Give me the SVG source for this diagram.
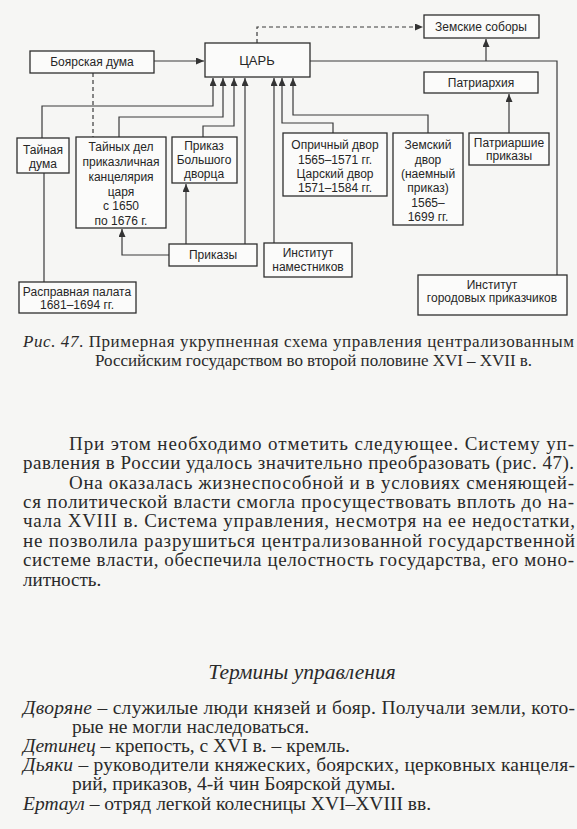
<svg xmlns="http://www.w3.org/2000/svg" width="577" height="829" viewBox="0 0 577 829">
<defs>
<style>
.box{fill:#fbfbfa;stroke:#2e2e2e;stroke-width:1.3}
.t{font-family:"Liberation Sans",Arial,sans-serif;font-size:12px;fill:#262626;text-anchor:middle}
.c{fill:none;stroke:#3a3a3a;stroke-width:1.2}
.d{stroke-dasharray:4 3}
.s{font-family:"Liberation Serif","Times New Roman",serif;font-size:19px;fill:#2a2a2a}
.cap{font-size:17px}
.tm{font-size:19.5px}
.ti{font-size:21.5px}
.i{font-style:italic}
</style>
<marker id="ah" markerWidth="8" markerHeight="7" refX="8" refY="3.5" orient="auto" markerUnits="userSpaceOnUse">
<path d="M0,0 L8,3.5 L0,7 z" fill="#333"/>
</marker>
</defs>
<rect width="577" height="829" fill="#f6f6f4"/>

<g id="connectors">
<path class="c" d="M154,61 H204" marker-end="url(#ah)"/>
<path class="c d" d="M257,43 V27 H423" marker-end="url(#ah)"/>
<path class="c d" d="M93,73 V137"/>
<path class="c" d="M310,61 H557 V275"/>
<path class="c" d="M486,61 V39" marker-end="url(#ah)"/>
<path class="c" d="M509,133 V94" marker-end="url(#ah)"/>
<path class="c" d="M42,138 V106 H213 V78" marker-end="url(#ah)"/>
<path class="c" d="M119,137 V117 H223 V78" marker-end="url(#ah)"/>
<path class="c" d="M203,137 V126 H234 V78" marker-end="url(#ah)"/>
<path class="c" d="M245,244 V78" marker-end="url(#ah)"/>
<path class="c" d="M274,243 V78" marker-end="url(#ah)"/>
<path class="c" d="M333,133 V123 H282 V78" marker-end="url(#ah)"/>
<path class="c" d="M428,133 V115 H293 V78" marker-end="url(#ah)"/>
<path class="c" d="M186,244 V184" marker-end="url(#ah)"/>
<path class="c" d="M169,255 H122 V229" marker-end="url(#ah)"/>
<path class="c" d="M44,173 V282"/>
</g>

<g id="boyar-duma"><rect class="box" x="30" y="51" width="124" height="22"/><text class="t" x="92" y="66">Боярская дума</text></g>
<g id="tsar"><rect class="box" x="205" y="43" width="105" height="34"/><text class="t" x="257" y="65" style="font-size:13px">ЦАРЬ</text></g>
<g id="zemskie-sobory"><rect class="box" x="424" y="15" width="115" height="23"/><text class="t" x="481" y="31">Земские соборы</text></g>
<g id="patriarkhiya"><rect class="box" x="424" y="72" width="114" height="21"/><text class="t" x="481" y="87">Патриархия</text></g>
<g id="patriarshie-prikazy"><rect class="box" x="469" y="133" width="80" height="32"/><text class="t" x="509" y="147">Патриаршие</text><text class="t" x="509" y="160">приказы</text></g>
<g id="zemsky-dvor"><rect class="box" x="393" y="133" width="70" height="92"/>
<text class="t" x="428" y="149">Земский</text><text class="t" x="428" y="164">двор</text><text class="t" x="428" y="178">(наемный</text><text class="t" x="428" y="192">приказ)</text><text class="t" x="428" y="207">1565–</text><text class="t" x="428" y="221">1699 гг.</text></g>
<g id="oprichny-dvor"><rect class="box" x="283" y="133" width="104" height="63"/>
<text class="t" x="335" y="149">Опричный двор</text><text class="t" x="335" y="164">1565–1571 гг.</text><text class="t" x="335" y="178">Царский двор</text><text class="t" x="335" y="192">1571–1584 гг.</text></g>
<g id="prikaz-bolshogo-dvortsa"><rect class="box" x="172" y="137" width="65" height="46"/>
<text class="t" x="204" y="150">Приказ</text><text class="t" x="204" y="164">Большого</text><text class="t" x="204" y="178">дворца</text></g>
<g id="taynykh-del"><rect class="box" x="76" y="137" width="90" height="91"/>
<text class="t" x="121" y="151">Тайных дел</text><text class="t" x="121" y="166">приказличная</text><text class="t" x="121" y="181">канцелярия</text><text class="t" x="121" y="196">царя</text><text class="t" x="121" y="210">с 1650</text><text class="t" x="121" y="225">по 1676 г.</text></g>
<g id="taynaya-duma"><rect class="box" x="17" y="138" width="52" height="35"/>
<text class="t" x="43" y="154">Тайная</text><text class="t" x="43" y="168">дума</text></g>
<g id="prikazy"><rect class="box" x="169" y="244" width="88" height="22"/><text class="t" x="213" y="259">Приказы</text></g>
<g id="institut-namestnikov"><rect class="box" x="264" y="243" width="88" height="34"/>
<text class="t" x="308" y="257">Институт</text><text class="t" x="308" y="271">наместников</text></g>
<g id="raspravnaya-palata"><rect class="box" x="19" y="282" width="117" height="31"/>
<text class="t" x="77" y="296">Расправная палата</text><text class="t" x="77" y="309">1681–1694 гг.</text></g>
<g id="institut-gorodovykh"><rect class="box" x="418" y="275" width="149" height="40"/>
<text class="t" x="492" y="289">Институт</text><text class="t" x="492" y="302">городовых приказчиков</text></g>

<g id="caption">
<text class="s cap" x="23" y="347" textLength="551" lengthAdjust="spacing"><tspan class="i">Рис. 47</tspan>. Примерная укрупненная схема управления централизованным</text>
<text class="s cap" x="95" y="366" textLength="437" lengthAdjust="spacing">Российским государством во второй половине XVI – XVII в.</text>
</g>

<g id="body">
<text class="s" x="69" y="450" textLength="505" lengthAdjust="spacing">При этом необходимо отметить следующее. Систему уп-</text>
<text class="s" x="23" y="469" textLength="551" lengthAdjust="spacing">равления в России удалось значительно преобразовать (рис. 47).</text>
<text class="s" x="69" y="489" textLength="505" lengthAdjust="spacing">Она оказалась жизнеспособной и в условиях сменяющей-</text>
<text class="s" x="23" y="508" textLength="551" lengthAdjust="spacing">ся политической власти смогла просуществовать вплоть до на-</text>
<text class="s" x="23" y="527" textLength="552" lengthAdjust="spacing">чала XVIII в. Система управления, несмотря на ее недостатки,</text>
<text class="s" x="23" y="547" textLength="552" lengthAdjust="spacing">не позволила разрушиться централизованной государственной</text>
<text class="s" x="23" y="566" textLength="551" lengthAdjust="spacing">системе власти, обеспечила целостность государства, его моно-</text>
<text class="s" x="23" y="586">литность.</text>
</g>

<g id="terms">
<text class="s ti i" x="302" y="679" text-anchor="middle">Термины управления</text>
<text class="s tm" x="23" y="714" textLength="552" lengthAdjust="spacing"><tspan class="i">Дворяне</tspan> – служилые люди князей и бояр. Получали земли, кото-</text>
<text class="s tm" x="72" y="733">рые не могли наследоваться.</text>
<text class="s tm" x="23" y="752"><tspan class="i">Детинец</tspan> – крепость, с XVI в. – кремль.</text>
<text class="s tm" x="23" y="771" textLength="552" lengthAdjust="spacing"><tspan class="i">Дьяки</tspan> – руководители княжеских, боярских, церковных канцеля-</text>
<text class="s tm" x="72" y="790">рий, приказов, 4-й чин Боярской думы.</text>
<text class="s tm" x="23" y="810"><tspan class="i">Ертаул</tspan> – отряд легкой колесницы XVI–XVIII вв.</text>
</g>
</svg>
